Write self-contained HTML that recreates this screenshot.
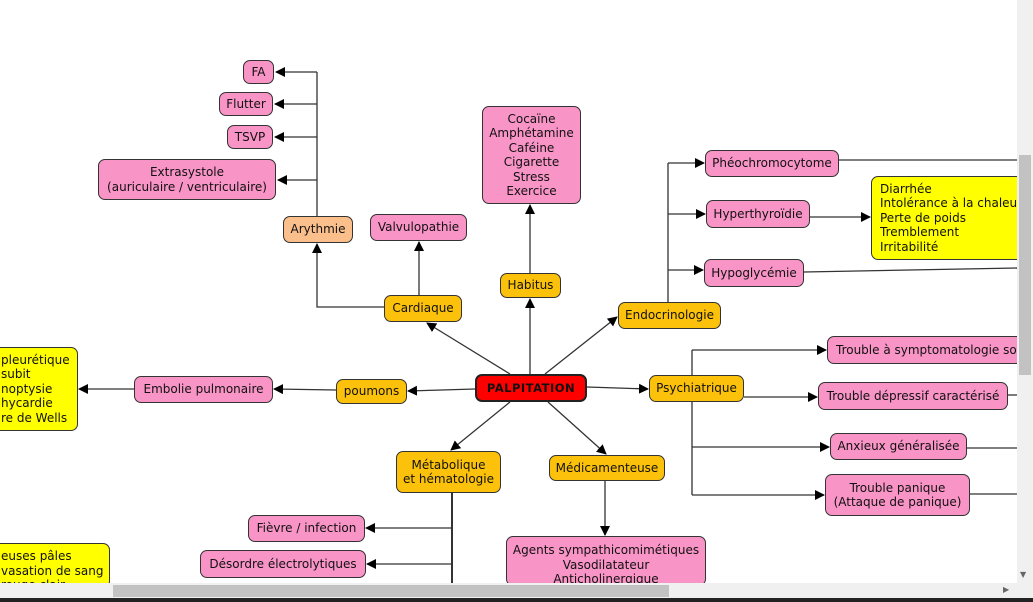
<!DOCTYPE html>
<html style="overflow:hidden;height:602px"><head><meta charset="utf-8"><style>
html,body{margin:0;width:1033px;height:602px;overflow:hidden}
body{background:#fff;position:relative;font-family:"DejaVu Sans","Liberation Sans",sans-serif;font-size:12px;color:#111}
.b{position:absolute;box-sizing:border-box;border:1px solid #333;border-radius:7px;display:flex;align-items:center;justify-content:center;text-align:center;line-height:14.5px;white-space:nowrap;overflow:hidden}
.p{background:#f994c6}.o{background:#fcc10a}.y{background:#ffff00;justify-content:flex-start;text-align:left;padding-left:8px}.s{background:#fbbf8c}
svg{position:absolute;left:0;top:0}
</style></head><body>
<svg width="1033" height="602">
<defs><marker id="a" markerWidth="10" markerHeight="10" refX="9" refY="5" orient="auto" markerUnits="userSpaceOnUse"><path d="M0,0L10,5L0,10z" fill="#000"/></marker></defs>
<g stroke="#333" stroke-width="1.3" fill="none">
<path d="M317,216V72"/>
<path d="M317,72H276" marker-end="url(#a)"/><path d="M317,104H275" marker-end="url(#a)"/><path d="M317,137H275" marker-end="url(#a)"/><path d="M317,180H278" marker-end="url(#a)"/>
<path d="M384,307H317V244" marker-end="url(#a)"/>
<path d="M419,295V242" marker-end="url(#a)"/>
<path d="M530,273V205" marker-end="url(#a)"/>
<path d="M530,374V299" marker-end="url(#a)"/>
<path d="M510,374L427,323" marker-end="url(#a)"/>
<path d="M545,374L617,317" marker-end="url(#a)"/>
<path d="M668,302V163"/>
<path d="M668,163H704" marker-end="url(#a)"/><path d="M668,214H705" marker-end="url(#a)"/><path d="M668,270H703" marker-end="url(#a)"/>
<path d="M810,217H870" marker-end="url(#a)"/>
<path d="M839,160H1017"/><path d="M804,272L1017,268"/>
<path d="M587,387L648,389" marker-end="url(#a)"/>
<path d="M692,350V495"/>
<path d="M692,350H826" marker-end="url(#a)"/><path d="M744,397H817" marker-end="url(#a)"/><path d="M692,447H829" marker-end="url(#a)"/><path d="M692,495H824" marker-end="url(#a)"/>
<path d="M967,448H1017"/><path d="M970,494H1017"/><path d="M1008,395H1017"/>
<path d="M475,389L408,391" marker-end="url(#a)"/>
<path d="M336,390L274,389" marker-end="url(#a)"/>
<path d="M134,389L79,389" marker-end="url(#a)"/>
<path d="M510,402L451,450" marker-end="url(#a)"/>
<path d="M548,402L606,454" marker-end="url(#a)"/>
<path d="M605,481V535" marker-end="url(#a)"/>
<path d="M452,493V583" stroke-width="2"/>
<path d="M452,528H366" marker-end="url(#a)"/><path d="M452,564H367" marker-end="url(#a)"/>
</g></svg>
<div class="b p" style="left:243px;top:60px;width:31px;height:24px">FA</div>
<div class="b p" style="left:219px;top:92px;width:54px;height:24px">Flutter</div>
<div class="b p" style="left:227px;top:125px;width:46px;height:24px">TSVP</div>
<div class="b p" style="left:98px;top:159px;width:178px;height:41px">Extrasystole<br>(auriculaire / ventriculaire)</div>
<div class="b s" style="left:283px;top:216px;width:70px;height:27px">Arythmie</div>
<div class="b p" style="left:370px;top:214px;width:97px;height:27px">Valvulopathie</div>
<div class="b p" style="left:482px;top:106px;width:99px;height:98px">Cocaïne<br>Amphétamine<br>Caféine<br>Cigarette<br>Stress<br>Exercice</div>
<div class="b o" style="left:500px;top:273px;width:61px;height:25px">Habitus</div>
<div class="b o" style="left:384px;top:295px;width:78px;height:27px">Cardiaque</div>
<div class="b" style="left:475px;top:374px;width:112px;height:28px;background:#f00;border:2px solid #222;font-weight:bold;font-size:11.5px;letter-spacing:0.5px">PALPITATION</div>
<div class="b o" style="left:618px;top:302px;width:103px;height:27px">Endocrinologie</div>
<div class="b p" style="left:705px;top:150px;width:134px;height:27px">Phéochromocytome</div>
<div class="b p" style="left:706px;top:200px;width:104px;height:28px">Hyperthyroïdie</div>
<div class="b y" style="left:871px;top:176px;width:160px;height:84px">Diarrhée<br>Intolérance à la chaleur<br>Perte de poids<br>Tremblement<br>Irritabilité</div>
<div class="b p" style="left:704px;top:259px;width:100px;height:28px">Hypoglycémie</div>
<div class="b o" style="left:649px;top:375px;width:95px;height:27px">Psychiatrique</div>
<div class="b p" style="left:827px;top:336px;width:200px;height:28px;justify-content:flex-start;padding-left:8px">Trouble à symptomatologie somatique</div>
<div class="b p" style="left:818px;top:382px;width:190px;height:28px">Trouble dépressif caractérisé</div>
<div class="b p" style="left:830px;top:433px;width:137px;height:27px">Anxieux généralisée</div>
<div class="b p" style="left:825px;top:474px;width:145px;height:42px">Trouble panique<br>(Attaque de panique)</div>
<div class="b o" style="left:336px;top:379px;width:71px;height:25px">poumons</div>
<div class="b p" style="left:134px;top:376px;width:139px;height:27px">Embolie pulmonaire</div>
<div class="b y" style="left:-60px;top:347px;width:138px;height:84px;padding-left:60px">pleurétique<br>subit<br>noptysie<br>hycardie<br>re de Wells</div>
<div class="b o" style="left:396px;top:451px;width:105px;height:42px">Métabolique<br>et hématologie</div>
<div class="b o" style="left:549px;top:455px;width:116px;height:26px">Médicamenteuse</div>
<div class="b p" style="left:248px;top:515px;width:117px;height:27px">Fièvre / infection</div>
<div class="b p" style="left:200px;top:550px;width:166px;height:28px">Désordre électrolytiques</div>
<div class="b p" style="left:506px;top:536px;width:200px;height:50px;align-items:flex-start;padding-top:6px">Agents sympathicomimétiques<br>Vasodilatateur<br>Anticholinergique</div>
<div class="b y" style="left:-60px;top:543px;width:170px;height:45px;padding-left:60px;align-items:flex-start;padding-top:5px">euses pâles<br>vasation de sang<br>rouge clair</div>
<div style="position:absolute;left:1017px;top:0;width:16px;height:583px;background:#f0f0f0"></div>
<div style="position:absolute;left:1019px;top:155px;width:12px;height:220px;background:#c2c2c2"></div>
<div style="position:absolute;left:0;top:583px;width:1033px;height:15px;background:#f0f0f0"></div>
<div style="position:absolute;left:113px;top:585px;width:556px;height:12px;background:#c2c2c2"></div>
<div style="position:absolute;left:1003px;top:585px;font-size:8px;color:#666">▶</div>
<div style="position:absolute;left:1020px;top:570px;font-size:8px;color:#666">▼</div>
<div style="position:absolute;left:0;top:598px;width:1033px;height:4px;background:#222"></div>
</body></html>
